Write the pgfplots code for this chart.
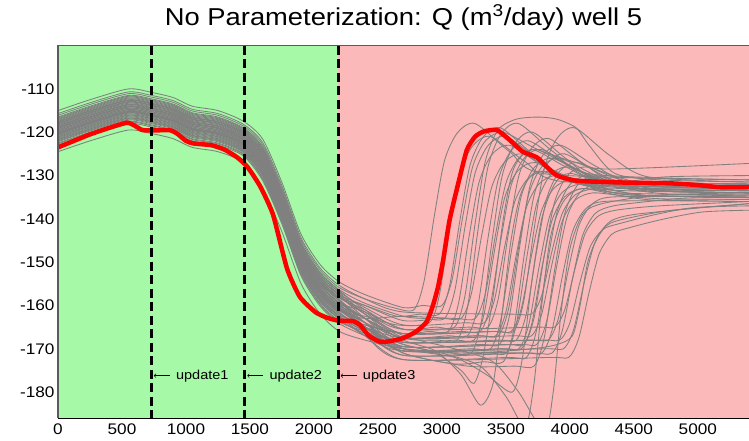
\documentclass[border=0pt]{standalone}
\usepackage{fontspec}
\setmainfont{Liberation Sans}[FakeStretch=1.12]
\usepackage{pgfplots}
\pgfplotsset{compat=1.18}
\definecolor{bggreen}{RGB}{166,249,166}
\definecolor{bgpink}{RGB}{251,185,185}
\definecolor{ensgray}{RGB}{128,128,128}
\definecolor{framegray}{RGB}{90,90,90}
\pgfplotsset{ens/.style={ensgray, line width=0.85bp, smooth, tension=0.45}}
\begin{document}
\begin{tikzpicture}
\useasboundingbox (-58bp,-22bp) rectangle (691bp,418.1bp);
\begin{axis}[
  at={(0,0)}, anchor=south west,
  scale only axis, width=691bp, height=372.5bp,
  xmin=0, xmax=5400, ymin=-186, ymax=-100,
  axis line style={draw=none},
  tick style={draw=none},
  xtick={0,500,...,5000}, ytick={-180,-170,...,-110},
  scaled x ticks=false,
  /pgf/number format/assume math mode=true,
  /pgf/number format/1000 sep={},
  tick label style={font=\fontsize{15.4}{18}\selectfont},
  xticklabel style={yshift=-2.5bp},
  title={No Parameterization: Q (m\textsuperscript{3}/day) well 5},
  title style={at={(0.5,1)}, anchor=base, yshift=14.6bp, font=\fontsize{24.5}{28}\selectfont},
  clip mode=individual,
]
% backgrounds
\addplot[fill=bggreen, draw=none] coordinates {(0,-186) (0,-100) (2190,-100) (2190,-186)} --cycle;
\addplot[fill=bgpink, draw=none] coordinates {(2190,-186) (2190,-100) (5400,-100) (5400,-186)} --cycle;

% ensemble
\addplot[ens] coordinates {(0,-116.1)(250,-113.6)(550,-111.1)(730,-111.9)(900,-113.1)(1050,-115.1)(1250,-116.1)(1450,-118.6)(1600,-122.9)(1750,-132.9)(1900,-144.9)(2050,-151.9)(2200,-155.9)(2400,-158.5)(2620,-160.5)(2780,-161)(2860,-154.5)(2940,-139.5)(3020,-126.6)(3120,-120.2)(3260,-118)(3530,-124.5)(3830,-129.7)(5400,-131)};
\addplot[ens] coordinates {(0,-120.5)(250,-118)(550,-115.5)(730,-116.3)(900,-117.5)(1050,-119.5)(1250,-120.5)(1450,-123)(1600,-128.2)(1750,-138.2)(1900,-150.2)(2050,-157.2)(2200,-161.2)(2400,-162.5)(2650,-164.5)(2900,-164)(2980,-157.6)(3060,-142.5)(3140,-129.6)(3240,-123.2)(3380,-121)(3650,-126.8)(3950,-131.4)(5400,-132.5)};
\addplot[ens] coordinates {(0,-118)(250,-115.5)(550,-113)(730,-113.8)(900,-115)(1050,-117)(1250,-118)(1450,-120.5)(1600,-125.2)(1750,-135.2)(1900,-147.2)(2050,-154.2)(2200,-158.2)(2400,-160)(2650,-162.5)(2830,-162)(2980,-162)(3060,-155.5)(3140,-140.5)(3220,-127.6)(3320,-121.2)(3460,-119)(3730,-125.5)(4030,-130.7)(5400,-132)};
\addplot[ens] coordinates {(0,-122)(250,-119.5)(550,-117)(730,-117.8)(900,-119)(1050,-121)(1250,-122)(1450,-124.5)(1600,-130)(1750,-140)(1900,-152)(2050,-159)(2200,-163)(2400,-164.5)(2700,-166.5)(2900,-166)(3050,-166)(3130,-159.5)(3210,-144.5)(3290,-131.6)(3390,-125.2)(3530,-123)(3800,-128)(4100,-132)(5400,-133)};
\addplot[ens] coordinates {(0,-119)(250,-116.5)(550,-114)(730,-114.8)(900,-116)(1050,-118)(1250,-119)(1450,-121.5)(1600,-126.4)(1750,-136.4)(1900,-148.4)(2050,-155.4)(2200,-159.4)(2400,-161.5)(2700,-165.5)(2950,-165)(3100,-165)(3180,-157.8)(3260,-141)(3340,-126.6)(3440,-119.4)(3580,-117)(3750,-116.5)(3900,-117)(4050,-119)(4150,-123)(4350,-129.5)(4700,-131)(5400,-131.5)};
\addplot[ens] coordinates {(0,-117.5)(250,-115)(550,-112.5)(730,-113.3)(900,-114.5)(1050,-116.5)(1250,-117.5)(1450,-120)(1600,-124.6)(1750,-134.6)(1900,-146.6)(2050,-153.6)(2200,-157.6)(2400,-160)(2700,-163.5)(3000,-163)(3150,-163)(3230,-157.3)(3310,-144)(3390,-132.6)(3490,-126.9)(3630,-125)(3900,-129.3)(4200,-132.7)(5400,-133.5)};
\addplot[ens] coordinates {(0,-120)(250,-117.5)(550,-115)(730,-115.8)(900,-117)(1050,-119)(1250,-120)(1450,-122.5)(1600,-127.6)(1750,-137.6)(1900,-149.6)(2050,-156.6)(2200,-160.6)(2400,-164)(2700,-167.5)(3050,-167)(3200,-167)(3280,-160.3)(3360,-144.5)(3440,-131)(3540,-124.3)(3680,-122)(3950,-127)(4250,-131)(5400,-132)};
\addplot[ens] coordinates {(0,-118.5)(250,-116)(550,-113.5)(730,-114.3)(900,-115.5)(1050,-117.5)(1250,-118.5)(1450,-121)(1600,-125.8)(1750,-135.8)(1900,-147.8)(2050,-154.8)(2200,-158.8)(2400,-163)(2700,-168.5)(3100,-168)(3250,-168)(3330,-161.9)(3410,-147.5)(3490,-135.2)(3590,-129)(3730,-127)(4000,-130.5)(4300,-133.3)(5400,-134)};
\addplot[ens] coordinates {(0,-121.3)(250,-118.8)(550,-116.3)(730,-117.1)(900,-118.3)(1050,-120.3)(1250,-121.3)(1450,-123.8)(1600,-129.2)(1750,-139.2)(1900,-151.2)(2050,-158.2)(2200,-162.2)(2400,-164.5)(2700,-166.5)(3150,-166)(3300,-166)(3380,-159.7)(3460,-145)(3540,-132.4)(3640,-126.1)(3780,-124)(4050,-128.5)(4350,-132.1)(5400,-133)};
\addplot[ens] coordinates {(0,-116.9)(250,-114.4)(550,-111.9)(730,-112.7)(900,-113.9)(1050,-115.9)(1250,-116.9)(1450,-119.4)(1600,-123.9)(1750,-133.9)(1900,-145.9)(2050,-152.9)(2200,-156.9)(2400,-160.5)(2700,-164.5)(3180,-164)(3330,-164)(3410,-158.8)(3490,-146.5)(3570,-136)(3670,-130.8)(3810,-129)(4080,-131.8)(4380,-134)(5400,-134.5)};
\addplot[ens] coordinates {(0,-122.5)(250,-120)(550,-117.5)(730,-118.3)(900,-119.5)(1050,-121.5)(1250,-122.5)(1450,-125)(1600,-130.6)(1750,-140.6)(1900,-152.6)(2050,-159.6)(2200,-163.6)(2400,-166.5)(2700,-170.5)(3230,-170)(3380,-170)(3460,-163.4)(3540,-148)(3620,-134.8)(3720,-128.2)(3860,-126)(4130,-129.5)(4430,-132.3)(5400,-133)};
\addplot[ens] coordinates {(0,-119.5)(250,-117)(550,-114.5)(730,-115.3)(900,-116.5)(1050,-118.5)(1250,-119.5)(1450,-122)(1600,-127)(1750,-137)(1900,-149)(2050,-156)(2200,-160)(2400,-163)(2700,-167.5)(3270,-167)(3420,-167)(3500,-161.5)(3580,-148.5)(3660,-137.4)(3760,-131.9)(3900,-130)(4170,-132.5)(4470,-134.5)(5400,-135)};
\addplot[ens] coordinates {(0,-118.3)(250,-115.8)(550,-113.3)(730,-114.1)(900,-115.3)(1050,-117.3)(1250,-118.3)(1450,-120.8)(1600,-125.6)(1750,-135.6)(1900,-147.6)(2050,-154.6)(2200,-158.6)(2400,-164)(2700,-169.5)(3300,-169)(3450,-169)(3530,-162.1)(3610,-146)(3690,-132.2)(3790,-125.3)(3930,-123)(4200,-127.8)(4500,-131.6)(5400,-132.5)};
\addplot[ens] coordinates {(0,-120.8)(250,-118.3)(550,-115.8)(730,-116.6)(900,-117.8)(1050,-119.8)(1250,-120.8)(1450,-123.3)(1600,-128.6)(1750,-138.6)(1900,-150.6)(2050,-157.6)(2200,-161.6)(2400,-166)(2700,-171.5)(3350,-171)(3500,-171)(3580,-164.6)(3660,-149.5)(3740,-136.6)(3840,-130.2)(3980,-128)(4250,-131)(4550,-133.4)(5400,-134)};
\addplot[ens] coordinates {(0,-117.3)(250,-114.8)(550,-112.3)(730,-113.1)(900,-114.3)(1050,-116.3)(1250,-117.3)(1450,-119.8)(1600,-124.4)(1750,-134.4)(1900,-146.4)(2050,-153.4)(2200,-157.4)(2400,-161.5)(2700,-166.5)(3390,-166)(3540,-166)(3620,-160.8)(3700,-148.5)(3780,-138)(3880,-132.8)(4020,-131)(4290,-133)(4590,-134.6)(5400,-135)};
\addplot[ens] coordinates {(0,-119.8)(250,-117.3)(550,-114.8)(730,-115.6)(900,-116.8)(1050,-118.8)(1250,-119.8)(1450,-122.3)(1600,-127.4)(1750,-137.4)(1900,-149.4)(2050,-156.4)(2200,-160.4)(2400,-164)(2700,-168.5)(3430,-168)(3580,-168)(3660,-161.9)(3740,-147.5)(3820,-135.2)(3920,-129)(4060,-127)(4330,-130.3)(4630,-132.9)(5400,-133.5)};
\addplot[ens] coordinates {(0,-118.7)(250,-116.2)(550,-113.7)(730,-114.5)(900,-115.7)(1050,-117.7)(1250,-118.7)(1450,-121.2)(1600,-126)(1750,-136)(1900,-148)(2050,-155)(2200,-159)(2400,-164)(2700,-170.5)(3470,-170)(3620,-170)(3700,-164.5)(3780,-151.5)(3860,-140.4)(3960,-134.9)(4100,-133)(4370,-134.5)(4670,-135.7)(5400,-136)};
\addplot[ens] coordinates {(0,-121.7)(250,-119.2)(550,-116.7)(730,-117.5)(900,-118.7)(1050,-120.7)(1250,-121.7)(1450,-124.2)(1600,-129.6)(1750,-139.6)(1900,-151.6)(2050,-158.6)(2200,-162.6)(2400,-167)(2700,-172.5)(3510,-172)(3660,-172)(3740,-165.7)(3820,-151)(3900,-138.4)(4000,-132.1)(4140,-130)(4410,-132)(4710,-133.6)(5400,-134)};
\addplot[ens] coordinates {(0,-117.7)(250,-115.2)(550,-112.7)(730,-113.5)(900,-114.7)(1050,-116.7)(1250,-117.7)(1450,-120.2)(1600,-124.8)(1750,-134.8)(1900,-146.8)(2050,-153.8)(2200,-157.8)(2400,-162)(2700,-167.5)(3550,-167)(3700,-167)(3780,-162)(3860,-150.5)(3940,-140.6)(4040,-135.7)(4180,-134)(4450,-134.8)(4750,-135.4)(5400,-135.5)};
\addplot[ens] coordinates {(0,-120.3)(250,-117.8)(550,-115.3)(730,-116.1)(900,-117.3)(1050,-119.3)(1250,-120.3)(1450,-122.8)(1600,-128)(1750,-138)(1900,-150)(2050,-157)(2200,-161)(2400,-165)(2700,-169.5)(3590,-169)(3740,-169)(3820,-163.5)(3900,-150.5)(3980,-139.4)(4080,-133.9)(4220,-132)(4490,-133.3)(4790,-134.3)(5400,-134.5)};
\addplot[ens] coordinates {(0,-119.2)(250,-116.7)(550,-114.2)(730,-115)(900,-116.2)(1050,-118.2)(1250,-119.2)(1450,-121.7)(1600,-126.6)(1750,-136.6)(1900,-148.6)(2050,-155.6)(2200,-159.6)(2400,-165.5)(2700,-171.5)(3630,-171)(3780,-171)(3860,-165.8)(3940,-153.5)(4020,-143)(4120,-137.8)(4260,-136)(4800,-135.8)(5400,-135.5)};
\addplot[ens] coordinates {(0,-121)(250,-118.5)(550,-116)(730,-116.8)(900,-118)(1050,-120)(1250,-121)(1450,-123.5)(1600,-128.8)(1750,-138.8)(1900,-150.8)(2050,-157.8)(2200,-161.8)(2400,-165)(2700,-168.5)(3680,-168)(3830,-168)(3910,-163)(3990,-151.5)(4070,-141.6)(4170,-136.7)(4310,-135)(4800,-134.8)(5400,-134.5)};
\addplot[ens] coordinates {(0,-116.7)(250,-114.2)(550,-111.7)(730,-112.5)(900,-113.7)(1050,-115.7)(1250,-116.7)(1450,-119.2)(1600,-123.6)(1750,-133.6)(1900,-145.6)(2050,-152.6)(2200,-156.6)(2400,-161)(2700,-165.5)(3730,-165)(3880,-165)(3960,-161)(4040,-151.5)(4120,-143.4)(4220,-139.4)(4360,-138)(4700,-137)(5400,-136)};
\addplot[ens] coordinates {(0,-123)(250,-120.5)(550,-118)(730,-118.8)(900,-120)(1050,-122)(1250,-123)(1450,-125.5)(1600,-131.2)(1750,-141.2)(1900,-153.2)(2050,-160.2)(2200,-164.2)(2400,-167)(2700,-170.5)(3800,-170)(3950,-170)(4030,-165.5)(4110,-155)(4190,-146)(4290,-141.5)(4430,-140)(4800,-138)(5400,-136.5)};
\addplot[ens] coordinates {(0,-118.9)(250,-116.4)(550,-113.9)(730,-114.7)(900,-115.9)(1050,-117.9)(1250,-118.9)(1450,-121.4)(1600,-126.3)(1750,-136.3)(1900,-148.3)(2050,-155.3)(2200,-159.3)(2400,-163)(2700,-168)(2950,-170.5)(3150,-176)(3300,-183)(3400,-178)(3470,-162)(3540,-145)(3620,-134)(3750,-129)(4050,-131.5)(4500,-133)(5400,-133)};
\addplot[ens] coordinates {(0,-120.2)(250,-117.7)(550,-115.2)(730,-116)(900,-117.2)(1050,-119.2)(1250,-120.2)(1450,-122.7)(1600,-127.8)(1750,-137.8)(1900,-149.8)(2050,-156.8)(2200,-160.8)(2400,-165)(2700,-169)(3000,-171)(3300,-174)(3500,-181)(3650,-188)(3720,-178)(3780,-160)(3850,-144)(3950,-136)(4100,-133)(4500,-134.5)(5400,-135)};
\addplot[ens] coordinates {(0,-117.9)(250,-115.4)(550,-112.9)(730,-113.7)(900,-114.9)(1050,-116.9)(1250,-117.9)(1450,-120.4)(1600,-125.1)(1750,-135.1)(1900,-147.1)(2050,-154.1)(2200,-158.1)(2400,-162)(2700,-167)(3100,-170)(3400,-173)(3600,-180)(3800,-189)(3870,-180)(3930,-162)(4000,-147)(4100,-139)(4250,-136.5)(4700,-134.5)(5400,-134)};
\addplot[ens] coordinates {(0,-121.5)(250,-119)(550,-116.5)(730,-117.3)(900,-118.5)(1050,-120.5)(1250,-121.5)(1450,-124)(1600,-129.4)(1750,-139.4)(1900,-151.4)(2050,-158.4)(2200,-162.4)(2400,-166)(2700,-170)(3100,-172)(3350,-176)(3550,-180)(3630,-172)(3700,-155)(3780,-140)(3880,-132)(4000,-129.5)(4300,-132)(4700,-133.3)(5400,-133.5)};
\addplot[ens] coordinates {(0,-115)(250,-112.5)(550,-110)(730,-110.8)(900,-112)(1050,-114)(1250,-115)(1450,-117.5)(1600,-121.6)(1750,-131.6)(1900,-143.6)(2050,-150.6)(2200,-154.6)(2400,-157.5)(2700,-160.5)(2850,-160)(3000,-160)(3080,-154)(3160,-140)(3240,-128)(3340,-122)(3480,-120)(3750,-124)(4050,-127)(4300,-128.5)(5400,-127.2)};
\addplot[ens] coordinates {(0,-124.5)(250,-122)(550,-119.5)(730,-120.3)(900,-121.5)(1050,-123.5)(1250,-124.5)(1450,-127)(1600,-133)(1750,-143)(1900,-155)(2050,-162)(2200,-166)(2400,-168)(2700,-170)(3200,-171)(3700,-170)(3900,-169)(4020,-167)(4080,-160)(4140,-150)(4220,-144)(4320,-140.5)(4500,-139)(5000,-137.5)(5400,-136.5)};
\addplot[ens] coordinates {(0,-116.5)(250,-114)(550,-111.5)(730,-112.3)(900,-113.5)(1050,-115.5)(1250,-116.5)(1450,-119)(1600,-123.4)(1750,-133.4)(1900,-145.4)(2050,-152.4)(2200,-156.4)(2400,-159.5)(2700,-162.5)(2870,-163)(3020,-163)(3100,-156.7)(3180,-142)(3260,-129.4)(3360,-123.1)(3500,-121)(3770,-126.5)(4070,-130.9)(5400,-132)};
\addplot[ens] coordinates {(0,-117.1)(250,-114.6)(550,-112.1)(730,-112.9)(900,-114.1)(1050,-116.1)(1250,-117.1)(1450,-119.6)(1600,-124.1)(1750,-134.1)(1900,-146.1)(2050,-153.1)(2200,-157.1)(2400,-162)(2700,-167.5)(2970,-168)(3120,-168)(3200,-160.5)(3280,-143)(3360,-128)(3460,-120.5)(3600,-118)(3870,-124.5)(4170,-129.7)(5400,-131)};
\addplot[ens] coordinates {(0,-117.6)(250,-115.1)(550,-112.6)(730,-113.4)(900,-114.6)(1050,-116.6)(1250,-117.6)(1450,-120.1)(1600,-124.7)(1750,-134.7)(1900,-146.7)(2050,-153.7)(2200,-157.7)(2400,-163)(2700,-170)(3080,-171)(3230,-171)(3310,-163.4)(3390,-145.5)(3470,-130.2)(3570,-122.6)(3710,-120)(3980,-126.3)(4280,-131.3)(5400,-132.5)};
\addplot[ens] coordinates {(0,-118.1)(250,-115.6)(550,-113.1)(730,-113.9)(900,-115.1)(1050,-117.1)(1250,-118.1)(1450,-120.6)(1600,-125.3)(1750,-135.3)(1900,-147.3)(2050,-154.3)(2200,-158.3)(2400,-161)(2700,-165.5)(3210,-165)(3360,-165)(3440,-158.5)(3520,-143.3)(3600,-130.2)(3700,-123.7)(3840,-121.5)(4110,-127.3)(4410,-131.8)(5400,-133)};
\addplot[ens] coordinates {(0,-118.6)(250,-116.1)(550,-113.6)(730,-114.4)(900,-115.6)(1050,-117.6)(1250,-118.6)(1450,-121.1)(1600,-125.9)(1750,-135.9)(1900,-147.9)(2050,-154.9)(2200,-158.9)(2400,-165)(2700,-171)(3100,-173.5)(3330,-173)(3480,-173)(3560,-165.8)(3640,-149)(3720,-134.6)(3820,-127.4)(3960,-125)(4230,-129.5)(4530,-133.1)(5400,-134)};
\addplot[ens] coordinates {(0,-119.1)(250,-116.6)(550,-114.1)(730,-114.9)(900,-116.1)(1050,-118.1)(1250,-119.1)(1450,-121.6)(1600,-126.5)(1750,-136.5)(1900,-148.5)(2050,-155.5)(2200,-159.5)(2400,-163)(2700,-166.5)(3410,-166)(3560,-166)(3640,-159)(3720,-142.5)(3800,-128.4)(3900,-121.4)(4040,-119)(4310,-125.3)(4610,-130.3)(5400,-131.5)};
\addplot[ens] coordinates {(0,-119.4)(250,-116.9)(550,-114.4)(730,-115.2)(900,-116.4)(1050,-118.4)(1250,-119.4)(1450,-121.9)(1600,-126.9)(1750,-136.9)(1900,-148.9)(2050,-155.9)(2200,-159.9)(2400,-164)(2700,-169.5)(3490,-169)(3640,-169)(3720,-162.9)(3800,-148.5)(3880,-136.2)(3980,-130)(4120,-128)(4390,-130.5)(4690,-132.5)(5400,-133)};
\addplot[ens] coordinates {(0,-119.7)(250,-117.2)(550,-114.7)(730,-115.5)(900,-116.7)(1050,-118.7)(1250,-119.7)(1450,-122.2)(1600,-127.2)(1750,-137.2)(1900,-149.2)(2050,-156.2)(2200,-160.2)(2400,-165)(2700,-171)(3200,-174)(3570,-174)(3720,-174)(3800,-167.4)(3880,-152)(3960,-138.8)(4060,-132.2)(4200,-130)(4470,-132)(4770,-133.6)(5400,-134)};
\addplot[ens] coordinates {(0,-120.1)(250,-117.6)(550,-115.1)(730,-115.9)(900,-117.1)(1050,-119.1)(1250,-120.1)(1450,-122.6)(1600,-127.7)(1750,-137.7)(1900,-149.7)(2050,-156.7)(2200,-160.7)(2400,-165)(2700,-170)(3710,-171)(3860,-171)(3940,-165.9)(4020,-154)(4100,-143.8)(4200,-138.7)(4340,-137)(4610,-136)(4910,-135.2)(5400,-135)};
\addplot[ens] coordinates {(0,-120.4)(250,-117.9)(550,-115.4)(730,-116.2)(900,-117.4)(1050,-119.4)(1250,-120.4)(1450,-122.9)(1600,-128.1)(1750,-138.1)(1900,-150.1)(2050,-157.1)(2200,-161.1)(2400,-165)(2700,-168.5)(3770,-168)(3920,-168)(4000,-164)(4080,-154.5)(4160,-146.4)(4260,-142.4)(4400,-141)(4670,-139)(4970,-137.4)(5400,-137)};
\addplot[ens] coordinates {(0,-120.6)(250,-118.1)(550,-115.6)(730,-116.4)(900,-117.6)(1050,-119.6)(1250,-120.6)(1450,-123.1)(1600,-128.3)(1750,-138.3)(1900,-150.3)(2050,-157.3)(2200,-161.3)(2400,-163)(2700,-162.5)(3110,-163)(3260,-163)(3340,-157.2)(3420,-143.5)(3500,-131.8)(3600,-126)(3740,-124)(4010,-128)(4310,-131.2)(5400,-132)};
\addplot[ens] coordinates {(0,-121.1)(250,-118.6)(550,-116.1)(730,-116.9)(900,-118.1)(1050,-120.1)(1250,-121.1)(1450,-123.6)(1600,-128.9)(1750,-138.9)(1900,-150.9)(2050,-157.9)(2200,-161.9)(2400,-165)(2700,-167.5)(3290,-167)(3440,-167)(3520,-160.9)(3600,-146.5)(3680,-134.2)(3780,-128)(3920,-126)(4190,-129.8)(4490,-132.8)(5400,-133.5)};
\addplot[ens] coordinates {(0,-121.8)(250,-119.3)(550,-116.8)(730,-117.6)(900,-118.8)(1050,-120.8)(1250,-121.8)(1450,-124.3)(1600,-129.8)(1750,-139.8)(1900,-151.8)(2050,-158.8)(2200,-162.8)(2400,-166)(2700,-170.5)(3450,-170)(3600,-170)(3680,-164.3)(3760,-151)(3840,-139.6)(3940,-133.9)(4080,-132)(4350,-133.5)(4650,-134.7)(5400,-135)};
\addplot[ens] coordinates {(0,-122.2)(250,-119.7)(550,-117.2)(730,-118)(900,-119.2)(1050,-121.2)(1250,-122.2)(1450,-124.7)(1600,-130.2)(1750,-140.2)(1900,-152.2)(2050,-159.2)(2200,-163.2)(2400,-167)(2700,-172.5)(3840,-172)(3990,-172)(4070,-167.5)(4150,-157)(4230,-148)(4330,-143.5)(4470,-142)(4740,-140)(5040,-138.4)(5400,-138)};
\addplot[ens] coordinates {(0,-122.7)(250,-120.2)(550,-117.7)(730,-118.5)(900,-119.7)(1050,-121.7)(1250,-122.7)(1450,-125.2)(1600,-130.8)(1750,-140.8)(1900,-152.8)(2050,-159.8)(2200,-163.8)(2400,-166)(2700,-169)(2950,-171)(3150,-175)(3250,-178)(3320,-172)(3400,-158)(3480,-140)(3560,-128.5)(3700,-124)(3970,-128)(4270,-131.2)(5400,-132)};
\addplot[ens] coordinates {(0,-115.7)(250,-113.2)(550,-110.7)(730,-111.5)(900,-112.7)(1050,-114.7)(1250,-115.7)(1450,-118.2)(1600,-122.4)(1750,-132.4)(1900,-144.4)(2050,-151.4)(2200,-155.4)(2400,-158.5)(2700,-161.5)(3550,-162)(3700,-162)(3780,-157.7)(3860,-147.5)(3940,-138.8)(4040,-134.5)(4180,-133)(4450,-131.5)(4750,-130.3)(5400,-130)};

% reference (red)
\addplot[red, line width=4.5bp, smooth, tension=0.35, line join=round] coordinates {(0,-123.5)(100,-122.3)(250,-120.5)(400,-119)(540,-117.8)(600,-118.5)(660,-119.5)(750,-119.6)(870,-119.5)(930,-120.3)(1000,-122)(1060,-122.6)(1200,-123)(1300,-124)(1400,-125.8)(1480,-128)(1580,-132.5)(1680,-139)(1790,-151.5)(1890,-158)(2010,-161.5)(2100,-162.8)(2190,-163.5)(2300,-163.6)(2360,-164.5)(2430,-167)(2520,-168.4)(2600,-168.2)(2700,-167.5)(2800,-166)(2880,-163.8)(2930,-160)(2970,-155.7)(3010,-149.5)(3060,-140.3)(3128,-131.8)(3195,-124.1)(3260,-121)(3330,-119.8)(3430,-119.5)(3530,-121.8)(3633,-124.5)(3742,-125.8)(3820,-128)(3900,-130)(4055,-131.2)(4400,-131.6)(4781,-131.8)(5000,-132.2)(5172,-132.7)(5400,-132.7)};

% update lines
\addplot[black, line width=2.8bp, dash pattern=on 9bp off 4.5bp] coordinates {(730,-100) (730,-186)};
\addplot[black, line width=2.8bp, dash pattern=on 9bp off 4.5bp] coordinates {(1460,-100) (1460,-186)};
\addplot[black, line width=2.8bp, dash pattern=on 9bp off 4.5bp] coordinates {(2190,-100) (2190,-186)};

% annotations
\draw[<-, >=to, line width=0.6bp] ([xshift=2.5bp]axis cs:730,-176.2) -- ([xshift=18.5bp]axis cs:730,-176.2);
\node[anchor=base west, inner sep=0, font=\fontsize{13}{15}\selectfont] at ([xshift=24.5bp, yshift=-4.3bp]axis cs:730,-176.2) {update1};
\draw[<-, >=to, line width=0.6bp] ([xshift=2.5bp]axis cs:1460,-176.2) -- ([xshift=18.5bp]axis cs:1460,-176.2);
\node[anchor=base west, inner sep=0, font=\fontsize{13}{15}\selectfont] at ([xshift=24.5bp, yshift=-4.3bp]axis cs:1460,-176.2) {update2};
\draw[<-, >=to, line width=0.6bp] ([xshift=2.5bp]axis cs:2190,-176.2) -- ([xshift=18.5bp]axis cs:2190,-176.2);
\node[anchor=base west, inner sep=0, font=\fontsize{13}{15}\selectfont] at ([xshift=24.5bp, yshift=-4.3bp]axis cs:2190,-176.2) {update3};

% frame
\draw[framegray, line width=1.1bp] (rel axis cs:0,0) -- (rel axis cs:0,1) -- (rel axis cs:1,1);
\draw[black, line width=1.1bp] (rel axis cs:0,0) -- (rel axis cs:1,0);
\end{axis}
\end{tikzpicture}
\end{document}
